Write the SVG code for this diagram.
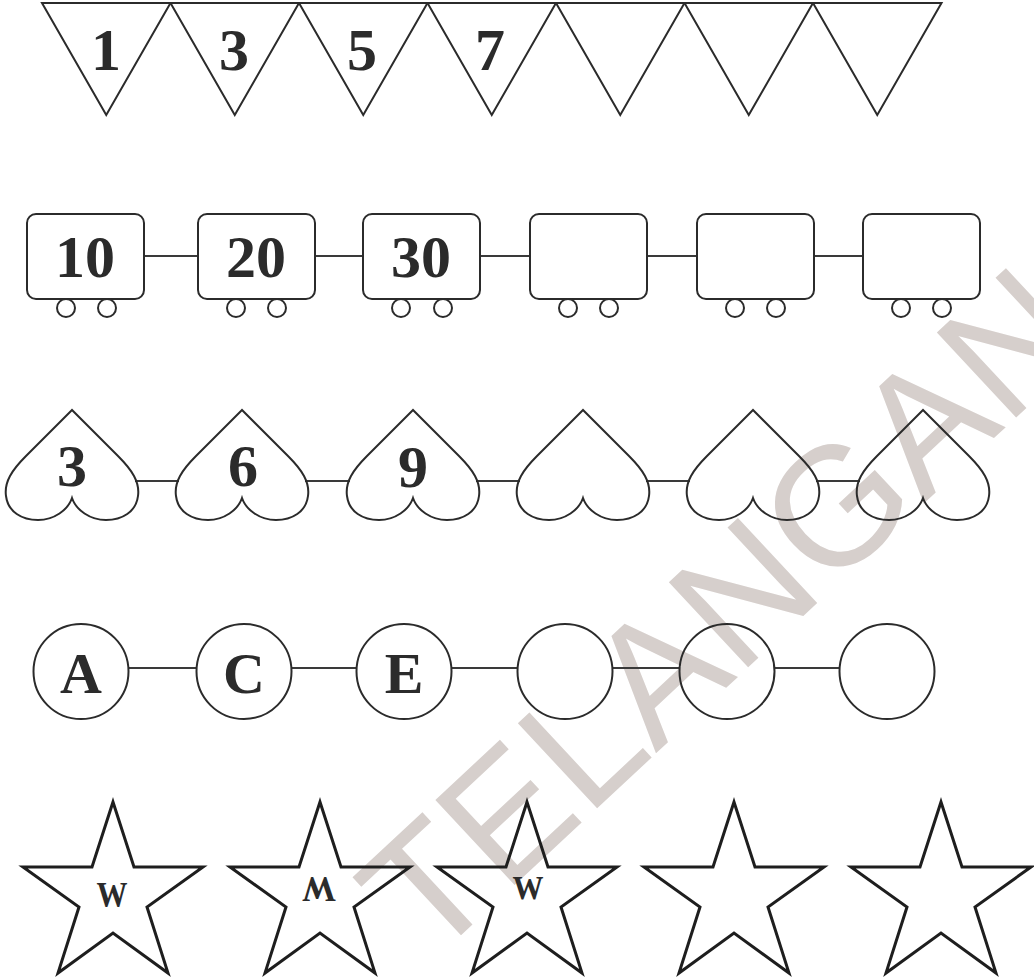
<svg xmlns="http://www.w3.org/2000/svg" width="1034" height="980" viewBox="0 0 1034 980">
<style>
.s{fill:none;stroke:#2b2b2b;stroke-width:2}
.st{fill:none;stroke:#1e1e1e;stroke-width:3;stroke-linejoin:miter}
.c{fill:none;stroke:#3a3a3a;stroke-width:2.2}
.n{font-family:"Liberation Serif","Times New Roman",serif;font-weight:bold;fill:#2b2b2b;text-anchor:middle}
.wm{font-family:"Liberation Sans",Arial,sans-serif;fill:#d6cfcc}
</style>
<defs>
<path id="heart" d="M0,0 L-46,46 C-60,60 -68,72 -66,86 C-64,102 -50,110 -34,110 C-18,110 -4,100 0,88 C4,100 18,110 34,110 C50,110 64,102 66,86 C68,72 60,60 46,46 Z"/>
<path id="star" d="M0,0 L21,65 L90,65 L34,105 L55,171 L0,131 L-55,171 L-34,105 L-90,65 L-21,65 Z"/>
</defs>
<rect width="1034" height="980" fill="#ffffff"/>
<g id="watermark" transform="rotate(-43 429 965)">
<text class="wm" x="429" y="965" font-size="169">TELANGANA</text>
</g>
<g id="connectors">
<line class="c" x1="144" y1="256" x2="198" y2="256"/>
<line class="c" x1="315" y1="256" x2="363" y2="256"/>
<line class="c" x1="480" y1="256" x2="530" y2="256"/>
<line class="c" x1="647" y1="256" x2="697" y2="256"/>
<line class="c" x1="814" y1="256" x2="863" y2="256"/>
<line class="c" x1="135" y1="481" x2="179" y2="481"/>
<line class="c" x1="305" y1="481" x2="350" y2="481"/>
<line class="c" x1="476" y1="481" x2="520" y2="481"/>
<line class="c" x1="646" y1="481" x2="690" y2="481"/>
<line class="c" x1="816" y1="481" x2="860" y2="481"/>
<line class="c" x1="128" y1="668" x2="197" y2="668"/>
<line class="c" x1="291" y1="668" x2="357" y2="668"/>
<line class="c" x1="451" y1="668" x2="518" y2="668"/>
<line class="c" x1="612" y1="668" x2="680" y2="668"/>
<line class="c" x1="774" y1="668" x2="840" y2="668"/>
</g>
<g id="flags">
<g id="flag1"><polygon class="s" points="42,3 170.5,3 106.25,115"/><text class="n" x="106" y="70" font-size="60">1</text></g>
<g id="flag2"><polygon class="s" points="170.5,3 299,3 234.75,115"/><text class="n" x="234" y="70" font-size="60">3</text></g>
<g id="flag3"><polygon class="s" points="299,3 427.5,3 363.25,115"/><text class="n" x="362" y="70" font-size="60">5</text></g>
<g id="flag4"><polygon class="s" points="427.5,3 556,3 491.75,115"/><text class="n" x="490" y="70" font-size="60">7</text></g>
<g id="flag5"><polygon class="s" points="556,3 684.5,3 620.25,115"/></g>
<g id="flag6"><polygon class="s" points="684.5,3 813,3 748.75,115"/></g>
<g id="flag7"><polygon class="s" points="813,3 941.5,3 877.25,115"/></g>
</g>
<g id="train">
<g id="car1"><rect class="s" x="27" y="214" width="117" height="85" rx="9"/><circle class="s" cx="66" cy="308" r="9"/><circle class="s" cx="107" cy="308" r="9"/><text class="n" x="85" y="277" font-size="60">10</text></g>
<g id="car2"><rect class="s" x="198" y="214" width="117" height="85" rx="9"/><circle class="s" cx="236" cy="308" r="9"/><circle class="s" cx="277" cy="308" r="9"/><text class="n" x="256" y="277" font-size="60">20</text></g>
<g id="car3"><rect class="s" x="363" y="214" width="117" height="85" rx="9"/><circle class="s" cx="401" cy="308" r="9"/><circle class="s" cx="443" cy="308" r="9"/><text class="n" x="421" y="277" font-size="60">30</text></g>
<g id="car4"><rect class="s" x="530" y="214" width="117" height="85" rx="9"/><circle class="s" cx="568" cy="308" r="9"/><circle class="s" cx="609" cy="308" r="9"/></g>
<g id="car5"><rect class="s" x="697" y="214" width="117" height="85" rx="9"/><circle class="s" cx="735" cy="308" r="9"/><circle class="s" cx="776" cy="308" r="9"/></g>
<g id="car6"><rect class="s" x="863" y="214" width="117" height="85" rx="9"/><circle class="s" cx="901" cy="308" r="9"/><circle class="s" cx="942" cy="308" r="9"/></g>
</g>
<g id="hearts">
<g id="heart1"><use href="#heart" class="s" transform="translate(72 410)"/><text class="n" x="72" y="486" font-size="60">3</text></g>
<g id="heart2"><use href="#heart" class="s" transform="translate(242 410)"/><text class="n" x="243" y="486" font-size="60">6</text></g>
<g id="heart3"><use href="#heart" class="s" transform="translate(413 410)"/><text class="n" x="413" y="487" font-size="60">9</text></g>
<g id="heart4"><use href="#heart" class="s" transform="translate(583 410)"/></g>
<g id="heart5"><use href="#heart" class="s" transform="translate(753 410)"/></g>
<g id="heart6"><use href="#heart" class="s" transform="translate(923 410)"/></g>
</g>
<g id="circles">
<g id="circle1"><circle class="s" cx="81" cy="671.5" r="47.5"/><text class="n" x="81" y="693" font-size="58">A</text></g>
<g id="circle2"><circle class="s" cx="244" cy="671.5" r="47.5"/><text class="n" x="244" y="693" font-size="58">C</text></g>
<g id="circle3"><circle class="s" cx="404" cy="671.5" r="47.5"/><text class="n" x="404" y="693" font-size="58">E</text></g>
<g id="circle4"><circle class="s" cx="565" cy="671.5" r="47.5"/></g>
<g id="circle5"><circle class="s" cx="727" cy="671.5" r="47.5"/></g>
<g id="circle6"><circle class="s" cx="887" cy="671.5" r="47.5"/></g>
</g>
<g id="stars">
<g id="star1"><use href="#star" class="st" transform="translate(113 802)"/><text class="n" x="112" y="907" font-size="36" textLength="31" lengthAdjust="spacingAndGlyphs">W</text></g>
<g id="star2"><use href="#star" class="st" transform="translate(320 802)"/><text class="n" x="319" y="901" font-size="36" textLength="34" lengthAdjust="spacingAndGlyphs" transform="rotate(180 319 889)">W</text></g>
<g id="star3"><use href="#star" class="st" transform="translate(527 802)"/><text class="n" x="528" y="899" font-size="34" textLength="31" lengthAdjust="spacingAndGlyphs">W</text></g>
<g id="star4"><use href="#star" class="st" transform="translate(734 802)"/></g>
<g id="star5"><use href="#star" class="st" transform="translate(941 802)"/></g>
</g>
</svg>
